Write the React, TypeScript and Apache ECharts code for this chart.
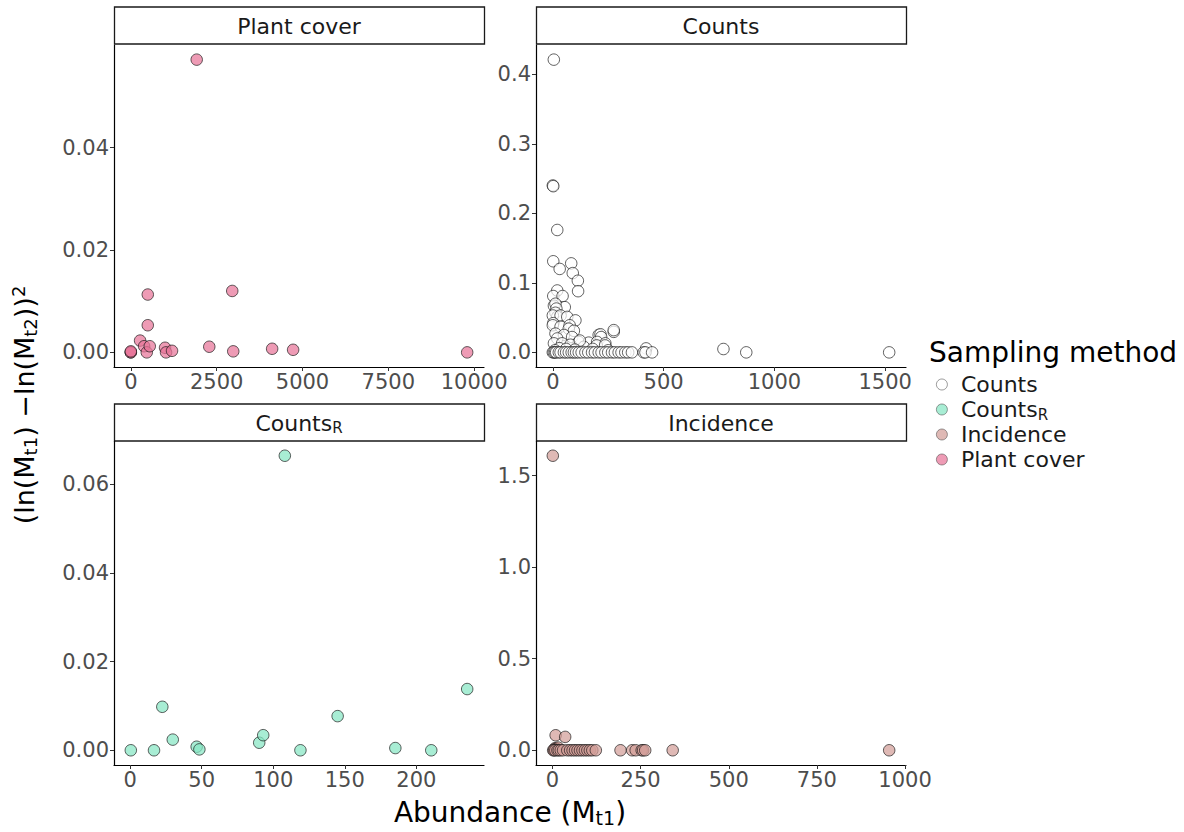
import { useEffect, useRef } from "react";
import * as echarts from "echarts";

// ---------- data ----------
const methods = ["Counts", "CountsR", "Incidence", "Plant cover"];

const plantX = [0, 0, 0, 270, 387, 465, 494, 494, 552, 997, 1026, 1200, 1919, 2285, 2954, 2983, 4116, 4727, 9797];
const plantY = [0, 0, 0.0002, 0.0023, 0.0012, 0, 0.0113, 0.0053, 0.0012, 0.0009, 0, 0.0003, 0.0572, 0.0011, 0.012, 0.0002, 0.0007, 0.0005, 0];

const countsX = [
  4.5, 0, 2, 20, 2, 31, 83, 90, 113, 114, 20, 2, 44, 5, 54, 12, 16, 12, 20, 0, 35, 65, 102, 2, 0, 35, 76, 72, 95,
  12, 50, 87, 20, 207, 215, 218, 275, 275, 117, 162, 200, 237, 5, 42, 80, 140, 122, 198, 236, 30, 60, 100, 180, 250,
  10, 421, 770,
  0, 4.5, 10, 15, 27, 35, 50, 60, 72, 85, 95, 105, 117, 130, 147, 160, 177, 190, 207, 220, 237, 250, 267, 280, 297,
  310, 327, 340, 357, 410, 418, 448, 873, 1518,
];
const countsY = [
  0.421, 0.24, 0.239, 0.176, 0.131, 0.12, 0.128, 0.114, 0.103, 0.088, 0.089, 0.081, 0.081, 0.067, 0.065, 0.07, 0.063,
  0.057, 0.051, 0.053, 0.053, 0.051, 0.046, 0.042, 0.039, 0.037, 0.039, 0.034, 0.031, 0.027, 0.025, 0.022, 0.02,
  0.025, 0.026, 0.022, 0.0295, 0.032, 0.015, 0.014, 0.015, 0.013, 0.013, 0.013, 0.011, 0.008, 0.017, 0.01, 0.01,
  0.006, 0.005, 0.004, 0.005, 0.003, 0.003, 0.0057, 0.0048,
  0, 0, 0, 0, 0, 0, 0, 0, 0, 0, 0, 0, 0, 0, 0, 0, 0, 0, 0, 0, 0, 0, 0, 0, 0, 0, 0, 0, 0, 0, 0, 0, 0, 0,
];

const countsRX = [0.5, 16.7, 22.5, 29.8, 46.5, 48.4, 90.2, 93, 108.1, 119, 145, 185.3, 210.4, 235.5];
const countsRY = [0, 0, 0.0098, 0.0024, 0.0008, 0.0002, 0.0017, 0.0034, 0.0664, 0, 0.0077, 0.0005, 0, 0.0138];

const incidenceX = [
  1, 9, 36, 8, 12, 16, 5,
  2, 4.5, 8, 14, 18, 23.5, 30, 42, 50, 57, 64, 71, 78, 85, 92, 99, 106, 113, 123, 193, 226, 236, 253, 257, 263, 341, 955,
];
const incidenceY = [
  1.608, 0.082, 0.073, 0.012, 0.008, 0.015, 0.005,
  0, 0, 0, 0, 0, 0, 0, 0, 0, 0, 0, 0, 0, 0, 0, 0, 0, 0, 0, 0, 0, 0, 0, 0, 0, 0, 0,
];

// tick labels
const plantXTicks = [0, 2500, 5000, 7500, 10000];
const plantYTicks = [0, 0.02, 0.04];
const countsXTicks = [0, 500, 1000, 1500];
const countsYTicks = [0, 0.1, 0.2, 0.3, 0.4];
const countsRXTicks = [0, 50, 100, 150, 200];
const countsRYTicks = [0, 0.02, 0.04, 0.06];
const incidenceXTicks = [0, 250, 500, 750, 1000];
const incidenceYTicks = [0, 0.5, 1, 1.5];

// ---------- styling ----------
const FONT = "DejaVu Sans";
const TICK_FS = 21;
const fills: Record<string, string> = {
  Counts: "rgba(255,255,255,0.85)",
  CountsR: "rgba(135,230,196,0.9)",
  Incidence: "rgba(210,158,152,0.9)",
  "Plant cover": "rgba(232,116,152,0.9)",
};

const grids = [
  { left: 114, top: 45, width: 370, height: 322 },
  { left: 536, top: 45, width: 370, height: 322 },
  { left: 114, top: 441, width: 370, height: 324 },
  { left: 536, top: 441, width: 370, height: 324 },
];

function pad(vals: number[]) {
  const mn = Math.min(...vals);
  const mx = Math.max(...vals);
  const d = (mx - mn) * 0.05;
  return [mn - d, mx + d];
}

function xAxis(idx: number, vals: number[], ticks: number[]) {
  const [mn, mx] = pad(vals);
  return {
    type: "value",
    gridIndex: idx,
    min: mn,
    max: mx,
    splitLine: { show: false },
    axisLine: { show: true, onZero: false, lineStyle: { color: "#000", width: 1.2 } },
    axisTick: { show: true, length: 4, lineStyle: { color: "#333", width: 1 }, customValues: ticks },
    axisLabel: {
      customValues: ticks,
      formatter: (v: number) => String(Math.round(v)),
      color: "#4D4D4D",
      fontFamily: FONT,
      fontSize: TICK_FS,
      margin: 4,
      showMinLabel: true,
      showMaxLabel: true,
      hideOverlap: false,
    },
  };
}

function yAxis(idx: number, vals: number[], ticks: number[], dec: number) {
  const [mn, mx] = pad(vals);
  return {
    type: "value",
    gridIndex: idx,
    min: mn,
    max: mx,
    splitLine: { show: false },
    axisLine: { show: true, onZero: false, lineStyle: { color: "#000", width: 1.2 } },
    axisTick: { show: true, length: 4, lineStyle: { color: "#333", width: 1 }, customValues: ticks },
    axisLabel: {
      customValues: ticks,
      formatter: (v: number) => v.toFixed(dec),
      color: "#4D4D4D",
      fontFamily: FONT,
      fontSize: TICK_FS,
      margin: 5,
      hideOverlap: false,
    },
  };
}

function series(name: string, idx: number, xs: number[], ys: number[]) {
  return {
    type: "scatter",
    name,
    xAxisIndex: idx,
    yAxisIndex: idx,
    symbol: "circle",
    symbolSize: 11.5,
    data: xs.map((x, i) => [x, ys[i]]),
    itemStyle: { color: fills[name], borderColor: "rgba(20,20,20,0.85)", borderWidth: 1 },
    emphasis: { disabled: true },
  };
}

function strip(g: { left: number; width: number }, top: number, text: string) {
  return [
    {
      type: "rect",
      shape: { x: g.left + 0.5, y: top, width: g.width, height: 37 },
      style: { fill: "#fff", stroke: "#1a1a1a", lineWidth: 1.3 },
      silent: true,
    },
    {
      type: "text",
      x: g.left + g.width / 2,
      y: top + 19,
      style: {
        text,
        fontFamily: FONT,
        fontSize: 22,
        fill: "#1a1a1a",
        textAlign: "center",
        textVerticalAlign: "middle",
        lineHeight: 24,
        rich: {
          s: { fontSize: 15, fontFamily: FONT, fill: "#1a1a1a", verticalAlign: "bottom", lineHeight: 13 },
        },
      },
      silent: true,
    },
  ];
}

export default function App() {
  const ref = useRef<HTMLDivElement>(null);
  useEffect(() => {
    document.body.style.margin = "0";
    const chart = echarts.init(ref.current!, null, { renderer: "svg" });
    const option = {
      animation: false,
      backgroundColor: "#fff",
      textStyle: { fontFamily: FONT },
      grid: grids.map((g) => ({ ...g, containLabel: false })),
      xAxis: [
        xAxis(0, plantX, plantXTicks),
        xAxis(1, countsX, countsXTicks),
        xAxis(2, countsRX, countsRXTicks),
        xAxis(3, incidenceX, incidenceXTicks),
      ],
      yAxis: [
        yAxis(0, plantY, plantYTicks, 2),
        yAxis(1, countsY, countsYTicks, 1),
        yAxis(2, countsRY, countsRYTicks, 2),
        yAxis(3, incidenceY, incidenceYTicks, 1),
      ],
      legend: {
        data: methods,
        orient: "vertical",
        left: 931,
        top: 367,
        icon: "circle",
        itemWidth: 28,
        itemHeight: 11,
        itemGap: 0,
        selectedMode: false,
        itemStyle: { borderColor: "rgba(60,60,60,0.8)", borderWidth: 0.8 },
        formatter: (n: string) => (n === "CountsR" ? "Counts{s|R}" : n),
        textStyle: {
          fontFamily: FONT,
          fontSize: 22,
          color: "#1a1a1a",
          lineHeight: 25,
          rich: {
            s: { fontSize: 15, fontFamily: FONT, color: "#1a1a1a", verticalAlign: "bottom", lineHeight: 13 },
          },
        },
      },
      graphic: [
        ...strip(grids[0], 7, "Plant cover"),
        ...strip(grids[1], 7, "Counts"),
        ...strip(grids[2], 404, "Counts{s|R}"),
        ...strip(grids[3], 404, "Incidence"),
        {
          type: "text",
          x: 929,
          y: 352,
          style: {
            text: "Sampling method",
            fontFamily: FONT,
            fontSize: 28,
            fill: "#000",
            textAlign: "left",
            textVerticalAlign: "middle",
          },
          silent: true,
        },
        {
          type: "text",
          x: 510,
          y: 812,
          style: {
            text: "Abundance (M{s|t1})",
            fontFamily: FONT,
            fontSize: 28,
            fill: "#000",
            textAlign: "center",
            textVerticalAlign: "middle",
            lineHeight: 30,
            rich: { s: { fontSize: 19, fontFamily: FONT, fill: "#000", verticalAlign: "bottom", lineHeight: 17 } },
          },
          silent: true,
        },
        {
          type: "text",
          x: 24,
          y: 405,
          rotation: Math.PI / 2,
          style: {
            text: "(ln(M{s|t1}) \u2212ln(M{s|t2})){p|2}",
            fontFamily: FONT,
            fontSize: 27,
            fill: "#000",
            textAlign: "center",
            textVerticalAlign: "middle",
            lineHeight: 30,
            rich: {
              s: { fontSize: 18, fontFamily: FONT, fill: "#000", verticalAlign: "bottom", lineHeight: 17 },
              p: { fontSize: 18, fontFamily: FONT, fill: "#000", verticalAlign: "top", lineHeight: 15 },
            },
          },
          silent: true,
        },
      ],
      series: [
        series("Counts", 1, countsX, countsY),
        series("CountsR", 2, countsRX, countsRY),
        series("Incidence", 3, incidenceX, incidenceY),
        series("Plant cover", 0, plantX, plantY),
      ],
    };
    chart.setOption(option as any);
    return () => chart.dispose();
  }, []);
  return <div ref={ref} style={{ position: "absolute", left: 0, top: 0, width: 1184, height: 832 }} />;
}
